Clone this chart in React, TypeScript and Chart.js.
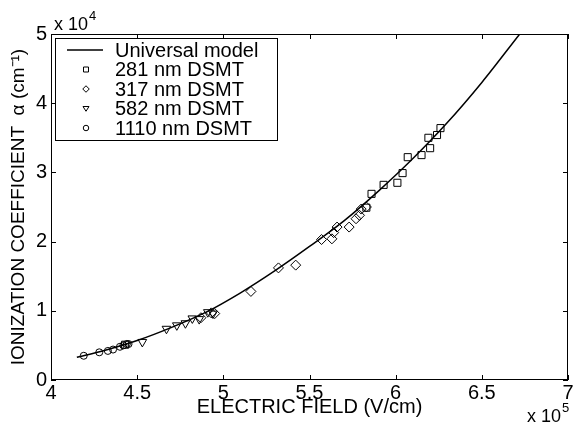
import React, { useEffect, useRef } from "react";
import { Chart, registerables } from "chart.js";

Chart.register(...registerables);

// Units: x in 10^5 V/cm, y in 10^4 cm^-1
const modelX = [4.15, 4.3, 4.5, 4.7, 4.9, 5.1, 5.3, 5.5, 5.7, 5.9, 6.1, 6.3, 6.5, 6.72];
const modelY = [0.33, 0.42, 0.57, 0.76, 0.98, 1.26, 1.58, 1.93, 2.3, 2.73, 3.2, 3.72, 4.3, 5.0];

const sq281X = [4.43, 5.83, 5.86, 5.93, 6.01, 6.04, 6.07, 6.15, 6.19, 6.2, 6.24, 6.26];
const sq281Y = [0.51, 2.49, 2.69, 2.82, 2.85, 2.99, 3.22, 3.25, 3.5, 3.35, 3.54, 3.64];

const di317X = [4.87, 4.93, 4.95, 5.16, 5.32, 5.42, 5.57, 5.63, 5.64, 5.66, 5.73, 5.77, 5.79, 5.8, 5.83];
const di317Y = [0.9, 0.97, 0.96, 1.28, 1.62, 1.66, 2.03, 2.04, 2.13, 2.21, 2.21, 2.33, 2.38, 2.47, 2.5];

const tr582X = [4.53, 4.67, 4.73, 4.78, 4.82, 4.86, 4.91, 4.94];
const tr582Y = [0.55, 0.74, 0.79, 0.82, 0.89, 0.88, 0.98, 0.96];

const ci1110X = [4.19, 4.28, 4.33, 4.36, 4.4, 4.42, 4.44, 4.45];
const ci1110Y = [0.35, 0.4, 0.42, 0.44, 0.48, 0.5, 0.52, 0.52];

const xTicks = [4, 4.5, 5, 5.5, 6, 6.5, 7];
const yTicks = [0, 1, 2, 3, 4, 5];

const legendLabels = ["Universal model", "281 nm DSMT", "317 nm DSMT", "582 nm DSMT", "1110 nm DSMT"];

const FONT = "'Liberation Sans', Arial, Helvetica, sans-serif";

const zip = (xs: number[], ys: number[]) => xs.map((x, i) => ({ x, y: ys[i] }));

function marker(ctx: CanvasRenderingContext2D, kind: string, x: number, y: number, s: number) {
  ctx.beginPath();
  if (kind === "square") {
    ctx.rect(x - s, y - s, 2 * s, 2 * s);
  } else if (kind === "diamond") {
    ctx.moveTo(x, y - s * 1.3);
    ctx.lineTo(x + s * 1.3, y);
    ctx.lineTo(x, y + s * 1.3);
    ctx.lineTo(x - s * 1.3, y);
    ctx.closePath();
  } else if (kind === "triangle") {
    ctx.moveTo(x - s * 1.2, y - s * 0.8);
    ctx.lineTo(x + s * 1.2, y - s * 0.8);
    ctx.lineTo(x, y + s * 1.1);
    ctx.closePath();
  } else if (kind === "circle") {
    ctx.arc(x, y, s * 1.1, 0, Math.PI * 2);
  }
  ctx.stroke();
}

const framePlugin = {
  id: "matlabFrame",
  afterDraw(chart: any) {
    const { ctx, chartArea } = chart;
    const { left, right, top, bottom } = chartArea;
    const xs = chart.scales.x;
    const ys = chart.scales.y;
    ctx.save();
    ctx.strokeStyle = "#000";
    ctx.lineWidth = 1;
    ctx.strokeRect(left + 0.5, top + 0.5, right - left - 1, bottom - top - 1);
    ctx.beginPath();
    const tl = 5;
    xTicks.forEach((v) => {
      const px = Math.round(xs.getPixelForValue(v)) + 0.5;
      ctx.moveTo(px, bottom);
      ctx.lineTo(px, bottom - tl);
      ctx.moveTo(px, top);
      ctx.lineTo(px, top + tl);
    });
    yTicks.forEach((v) => {
      const py = Math.round(ys.getPixelForValue(v)) + 0.5;
      ctx.moveTo(left, py);
      ctx.lineTo(left + tl, py);
      ctx.moveTo(right, py);
      ctx.lineTo(right - tl, py);
    });
    ctx.stroke();

    // exponent labels
    ctx.fillStyle = "#000";
    ctx.textBaseline = "alphabetic";
    ctx.textAlign = "left";
    ctx.font = `18px ${FONT}`;
    ctx.fillText("x 10", left + 3, top - 4);
    let w = ctx.measureText("x 10").width;
    ctx.font = `13px ${FONT}`;
    ctx.fillText("4", left + 4 + w, top - 14);
    ctx.font = `18px ${FONT}`;
    const bx = right - 41;
    ctx.fillText("x 10", bx, 422);
    w = ctx.measureText("x 10").width;
    ctx.font = `13px ${FONT}`;
    ctx.fillText("5", bx + w + 1, 412);

    // legend
    const lx = 55, ly = 38, lw = 222, lh = 102;
    ctx.fillStyle = "#fff";
    ctx.fillRect(lx, ly, lw, lh);
    ctx.strokeRect(lx + 0.5, ly + 0.5, lw, lh);
    ctx.fillStyle = "#000";
    ctx.font = `20px ${FONT}`;
    ctx.textBaseline = "middle";
    const kinds = ["line", "square", "diamond", "triangle", "circle"];
    legendLabels.forEach((lab, i) => {
      const ry = ly + 12 + i * 19.5;
      if (kinds[i] === "line") {
        ctx.lineWidth = 1.3;
        ctx.beginPath();
        ctx.moveTo(67, ry);
        ctx.lineTo(103, ry);
        ctx.stroke();
        ctx.lineWidth = 1;
      } else {
        marker(ctx, kinds[i], 86, ry, 2.5);
      }
      ctx.fillText(lab, 115, ry + 1);
    });
    ctx.restore();
  },
};

export default function App() {
  const ref = useRef<HTMLCanvasElement | null>(null);
  useEffect(() => {
    document.body.style.margin = "0";
    const scatterCommon = {
      showLine: false,
      borderColor: "#000",
      backgroundColor: "rgba(255,255,255,0)",
      borderWidth: 1,
      pointBorderWidth: 1,
    };
    const chart = new Chart(ref.current as HTMLCanvasElement, {
      type: "scatter",
      data: {
        datasets: [
          {
            label: legendLabels[0],
            data: zip(modelX, modelY),
            showLine: true,
            borderColor: "#000",
            borderWidth: 1.5,
            pointRadius: 0,
            cubicInterpolationMode: "monotone",
          } as any,
          { label: legendLabels[1], data: zip(sq281X, sq281Y), pointStyle: "rect", pointRadius: 5, ...scatterCommon },
          { label: legendLabels[2], data: zip(di317X, di317Y), pointStyle: "rectRot", pointRadius: 5, ...scatterCommon },
          {
            label: legendLabels[3],
            data: zip(tr582X, tr582Y),
            pointStyle: "triangle",
            rotation: 180,
            pointRotation: 180,
            pointRadius: 5,
            ...scatterCommon,
          } as any,
          { label: legendLabels[4], data: zip(ci1110X, ci1110Y), pointStyle: "circle", pointRadius: 3.5, ...scatterCommon },
        ],
      },
      options: {
        animation: false,
        responsive: true,
        maintainAspectRatio: false,
        layout: { padding: { left: 0, top: 34, right: 12, bottom: 0 } },
        plugins: { legend: { display: false }, tooltip: { enabled: false } },
        scales: {
          x: {
            type: "linear",
            min: 4,
            max: 7,
            afterFit: (s: any) => {
              s.height = 50;
            },
            afterBuildTicks: (s: any) => {
              s.ticks = xTicks.map((v) => ({ value: v }));
            },
            grid: { display: false, drawTicks: false },
            border: { display: false },
            ticks: {
              color: "#000",
              padding: 1,
              font: { family: FONT, size: 20, lineHeight: 1.2 },
              maxRotation: 0,
              autoSkip: false,
              callback: (v: any) => String(v),
            },
            title: {
              display: true,
              text: "ELECTRIC FIELD (V/cm)",
              color: "#000",
              font: { family: FONT, size: 20, lineHeight: 1.2 },
              padding: { top: 0, bottom: 11 },
            },
          },
          y: {
            type: "linear",
            min: 0,
            max: 5,
            afterFit: (s: any) => {
              s.width = 51;
            },
            afterBuildTicks: (s: any) => {
              s.ticks = yTicks.map((v) => ({ value: v }));
            },
            grid: { display: false, drawTicks: false },
            border: { display: false },
            ticks: {
              color: "#000",
              padding: 4,
              font: { family: FONT, size: 20, lineHeight: 1.2 },
              autoSkip: false,
              callback: (v: any) => String(v),
            },
            title: {
              display: true,
              text: "IONIZATION COEFFICIENT  \u03B1 (cm\u207B\u00B9)",
              color: "#000",
              font: { family: FONT, size: 19, lineHeight: 1.2 },
              padding: { top: 7, bottom: 0 },
            },
          },
        },
      },
      plugins: [framePlugin],
    });
    return () => chart.destroy();
  }, []);
  return (
    <div style={{ width: 580, height: 430, position: "relative", background: "#fff" }}>
      <canvas ref={ref} />
    </div>
  );
}
